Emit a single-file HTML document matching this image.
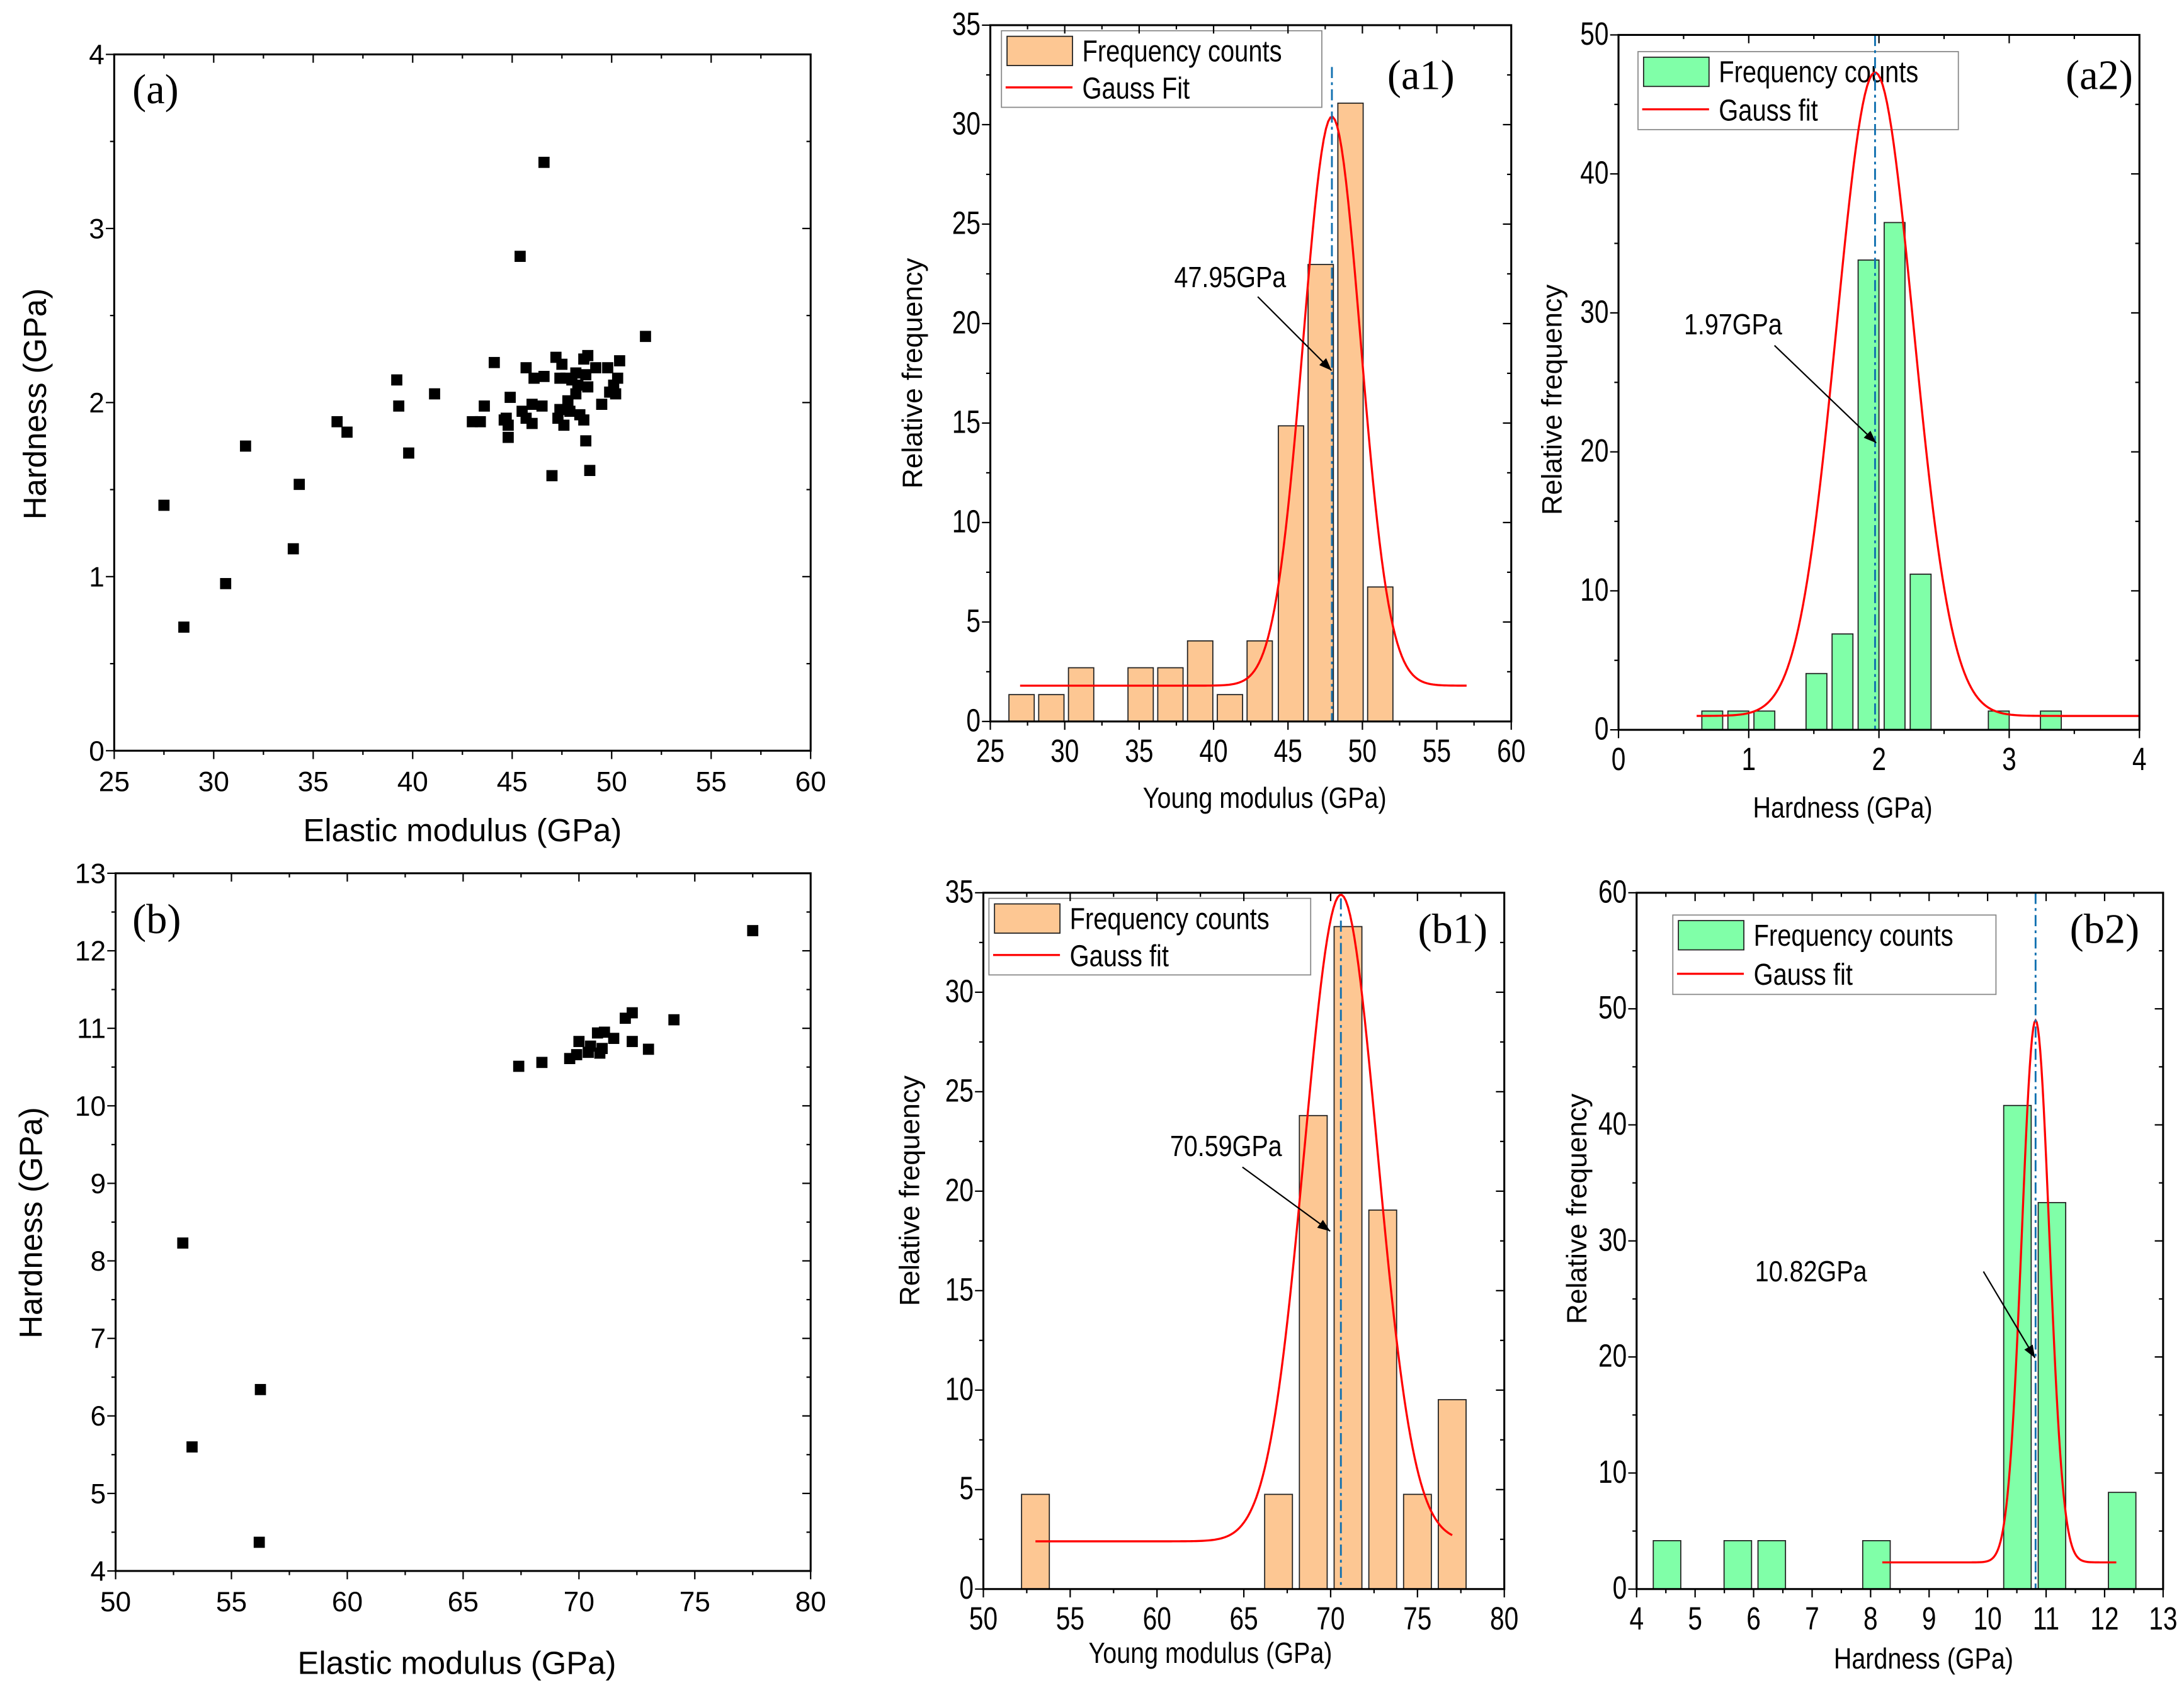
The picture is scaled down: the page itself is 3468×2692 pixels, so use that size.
<!DOCTYPE html>
<html><head><meta charset="utf-8">
<style>
html,body{margin:0;padding:0;background:#fff;}
svg{display:block;}
text{font-family:"Liberation Sans",sans-serif;fill:#000;}
.serif{font-family:"Liberation Serif",serif;}
</style></head>
<body>
<svg id="fig" xmlns="http://www.w3.org/2000/svg" width="3468" height="2692" viewBox="0 0 1568 1217">
<rect x="0" y="0" width="1568" height="1217" fill="#fff"/>
</svg>
<script>
// ---- data: scatter (a)
const aE = [27.5,28.5,30.6,31.6,34.0,34.3,36.2,36.7,39.2,39.3,39.8,41.1,43.0,43.4,43.6,44.1,44.6,44.7,44.8,44.8,44.9,45.4,45.5,45.7,45.7,46.0,46.0,46.1,46.5,46.6,46.6,47.0,47.2,47.3,47.4,47.4,47.5,47.6,47.7,47.8,47.9,48.0,48.2,48.2,48.3,48.4,48.6,48.6,48.7,48.7,48.8,48.8,48.9,49.5,49.8,49.9,50.1,50.2,50.4,50.3,49.2,51.7];
const aH = [1.41,0.71,0.96,1.75,1.16,1.53,1.89,1.83,2.13,1.98,1.71,2.05,1.89,1.89,1.98,2.23,1.90,1.91,1.87,1.80,2.03,2.84,1.95,1.91,2.20,1.99,1.88,2.14,1.98,2.15,3.38,1.58,2.26,1.91,1.96,2.14,2.22,1.87,2.14,2.01,1.95,2.13,2.05,2.17,2.10,1.93,2.25,1.90,2.16,1.78,2.27,2.09,1.61,1.99,2.20,2.06,2.10,2.05,2.24,2.14,2.20,2.38];
// ---- data: scatter (b)
const bE = [52.9,53.3,56.2,56.25,67.4,68.4,69.6,69.9,70.0,70.4,70.5,70.9,70.8,71.0,71.1,71.5,72.0,72.3,72.3,73.0,74.1,77.5];
const bH = [8.23,5.6,4.37,6.34,10.51,10.56,10.61,10.66,10.83,10.69,10.77,10.68,10.94,10.74,10.95,10.87,11.13,10.83,11.20,10.73,11.11,12.26];
// ---- data: histogram (a1)
const a1Centers = [27.1,29.1,31.1,35.1,37.1,39.1,41.1,43.1,45.2,47.2,49.2,51.2];
const a1Freq = [1.35,1.35,2.7,2.7,2.7,4.05,1.35,4.05,14.86,22.97,31.08,6.76];
const a1Gauss = {y0:1.8, xc:47.95, A:28.6, w:3.86, from:27, to:57};
// ---- data: histogram (a2)
const a2Centers = [0.72,0.92,1.12,1.52,1.72,1.92,2.12,2.32,2.92,3.32];
const a2Freq = [1.35,1.35,1.35,4.05,6.9,33.8,36.5,11.2,1.35,1.35];
const a2Gauss = {y0:1.0, xc:1.97, A:46.3, w:0.59, from:0.6, to:4};
// ---- data: histogram (b1)
const b1Centers = [53,67,69,71,73,75,77];
const b1Freq = [4.76,4.76,23.8,33.3,19.05,4.76,9.52];
const b1Gauss = {y0:2.4, xc:70.59, A:32.5, w:4.2, from:53, to:77};
// ---- data: histogram (b2)
const b2Centers = [4.52,5.73,6.31,8.1,10.51,11.1,12.3];
const b2Freq = [4.17,4.17,4.17,4.17,41.67,33.3,8.33];
const b2Gauss = {y0:2.3, xc:10.82, A:46.7, w:0.47, from:8.2, to:12.2};

const NS='http://www.w3.org/2000/svg';
const fig=document.getElementById('fig');
function mk(tag,attrs,parent,txt){const e=document.createElementNS(NS,tag);for(const k in attrs)e.setAttribute(k,attrs[k]);if(txt!==undefined)e.textContent=txt;(parent||fig).appendChild(e);return e;}
function gauss(g,x){return g.y0+g.A*Math.exp(-2*(x-g.xc)*(x-g.xc)/(g.w*g.w));}

function axes(p){
  const g=mk('g',{});
  
  
  p.sx=v=>p.L+(v-p.x0)/(p.x1-p.x0)*(p.R-p.L);
  p.sy=v=>p.B-(v-p.y0)/(p.y1-p.y0)*(p.B-p.T);
  p.g=g;
  p.marks=mk('g',{},g);
  const narrow=p.narrow;
  const fs=narrow?23:20;
  for(let v=p.x0; v<=p.x1+1e-9; v+=p.xminor){
    const major=Math.abs(Math.round(v/p.xstep)*p.xstep-v)<1e-6;
    const X=p.sx(v), len=major?6:3;
    mk('line',{x1:X,y1:p.B,x2:X,y2:p.B+len,stroke:'#000','stroke-width':1},g);
    mk('line',{x1:X,y1:p.T,x2:X,y2:p.T+len,stroke:'#000','stroke-width':1},g);
    if(major){const t=mk('text',{x:X,y:p.B+29,'text-anchor':'middle','font-size':fs},g,String(+v.toFixed(2)));
      if(narrow){t.setAttribute('transform',`translate(${X},0) scale(0.8,1) translate(${-X},0)`);}
      }
  }
  for(let v=p.y0; v<=p.y1+1e-9; v+=p.yminor){
    const major=Math.abs(Math.round(v/p.ystep)*p.ystep-v)<1e-6;
    const Y=p.sy(v), len=major?6:3;
    mk('line',{x1:p.L,y1:Y,x2:p.L-len,y2:Y,stroke:'#000','stroke-width':1},g);
    mk('line',{x1:p.R,y1:Y,x2:p.R-len,y2:Y,stroke:'#000','stroke-width':1},g);
    if(major){const tx=p.L-7;const t=mk('text',{x:tx,y:Y+7,'text-anchor':'end','font-size':fs},g,String(+v.toFixed(2)));
      if(narrow){t.setAttribute('transform',`translate(${tx},0) scale(0.8,1) translate(${-tx},0)`);}
      }
  }
  mk('rect',{x:p.L,y:p.T,width:p.R-p.L,height:p.B-p.T,fill:'none',stroke:'#000','stroke-width':1.4},g);
  const xt=mk('text',{x:p.xtx,y:p.xty,'text-anchor':'middle','font-size':p.xtsize},g,p.xtitle);
  if(narrow)xt.setAttribute('transform',`translate(${p.xtx},0) scale(0.85,1) translate(${-p.xtx},0)`);
  
  const yt=mk('text',{x:0,y:0,'text-anchor':'middle','font-size':p.ytsize,transform:`translate(${p.ytx},${p.yty}) rotate(-90)`},g,p.ytitle);
  
  const pl=mk('text',{x:p.plx,y:p.ply,'font-size':p.plsize,'class':'serif'},g,p.label);
  
  return p;
}
function scatter(p,xs,ys){
  for(let i=0;i<xs.length;i++){
    const r=mk('rect',{x:p.sx(xs[i])-4,y:p.sy(ys[i])-4,width:8,height:8,fill:'#000'},p.marks);
    
    
  }
}
function hist(p,centers,freq,bw,fill,gs,leg,ann){
  const lg=mk('g',{},p.marks);
  
  
  mk('rect',{x:leg.x,y:leg.y,width:leg.w,height:leg.h,fill:'#fff',stroke:'#888','stroke-width':0.8},lg);
  mk('rect',{x:leg.x+4,y:leg.y+4,width:47,height:21,fill:fill,stroke:'#222','stroke-width':0.8},lg);
  mk('line',{x1:leg.x+3,x2:leg.x+51,y1:leg.y+leg.h*0.74,y2:leg.y+leg.h*0.74,stroke:'#ff0000','stroke-width':1.5},lg);
  const t1=mk('text',{x:leg.x+58,y:leg.y+22,'font-size':22,transform:`translate(${leg.x+58},0) scale(0.82,1) translate(${-(leg.x+58)},0)`},lg,'Frequency counts');
  
  const t2=mk('text',{x:leg.x+58,y:leg.y+leg.h*0.74+8,'font-size':22,transform:`translate(${leg.x+58},0) scale(0.82,1) translate(${-(leg.x+58)},0)`},lg,leg.fit);
  
  for(let i=0;i<centers.length;i++){
    const x0=p.sx(centers[i]-bw/2), x1=p.sx(centers[i]+bw/2), y=p.sy(freq[i]);
    const r=mk('rect',{x:x0,y:y,width:x1-x0,height:p.B-y,fill:fill,stroke:'#222','stroke-width':0.8},p.marks);
    
    
  }
  let d='';const n=200;
  for(let k=0;k<=n;k++){const x=gs.from+(gs.to-gs.from)*k/n;d+=(k?'L':'M')+p.sx(x).toFixed(2)+','+p.sy(gauss(gs,x)).toFixed(2);}
  const c=mk('path',{d:d,fill:'none',stroke:'#ff0000','stroke-width':1.5},p.marks);
  
  
  const vl=mk('line',{x1:p.sx(gs.xc),x2:p.sx(gs.xc),y1:leg.vtop,y2:p.B,stroke:'#1070b0','stroke-width':1.3,'stroke-dasharray':'8,3,2,3'},p.marks);
  
  
  const at=mk('text',{x:ann.tx,y:ann.ty,'font-size':21,transform:`translate(${ann.tx},0) scale(0.85,1) translate(${-ann.tx},0)`},p.marks,gs.xc.toFixed(2)+'GPa');
  
  const ax=ann.x2-ann.x1, ay=ann.y2-ann.y1, L=Math.hypot(ax,ay), ux=ax/L, uy=ay/L;
  mk('line',{x1:ann.x1,y1:ann.y1,x2:ann.x2,y2:ann.y2,stroke:'#000','stroke-width':1},p.marks);
  mk('path',{d:`M${ann.x2},${ann.y2} L${ann.x2-9*ux-3.5*uy},${ann.y2-9*uy+3.5*ux} L${ann.x2-9*ux+3.5*uy},${ann.y2-9*uy-3.5*ux}Z`,fill:'#000'},p.marks);
}

const pa=axes({name:'panel-a-scatter',L:82,R:582,T:39,B:539,x0:25,x1:60,xstep:5,xminor:2.5,y0:0,y1:4,ystep:1,yminor:0.5,
  xtitle:'Elastic modulus (GPa)',xtx:332,xty:604,xtsize:23,ytitle:'Hardness (GPa)',ytx:33,yty:290,ytsize:23,label:'(a)',plx:95,ply:74,plsize:30});
scatter(pa,aE,aH);
const pb=axes({name:'panel-b-scatter',L:83,R:582,T:627,B:1128,x0:50,x1:80,xstep:5,xminor:2.5,y0:4,y1:13,ystep:1,yminor:0.5,
  xtitle:'Elastic modulus (GPa)',xtx:328,xty:1202,xtsize:23,ytitle:'Hardness (GPa)',ytx:30,yty:878,ytsize:23,label:'(b)',plx:95,ply:670,plsize:30});
scatter(pb,bE,bH);

const pa1=axes({name:'panel-a1-histogram',narrow:true,L:711,R:1085,T:18,B:518,x0:25,x1:60,xstep:5,xminor:2.5,y0:0,y1:35,ystep:5,yminor:2.5,
  xtitle:'Young modulus (GPa)',xtx:908,xty:580,xtsize:21,ytitle:'Relative frequency',ytx:662,yty:268,ytsize:20,label:'(a1)',plx:996,ply:64,plsize:30});
hist(pa1,a1Centers,a1Freq,1.7,'#fdc793',a1Gauss,{x:719,y:22,w:230,h:55,fit:'Gauss Fit',vtop:48},{tx:843,ty:206,x1:903,y1:213,x2:956,y2:266});

const pa2=axes({name:'panel-a2-histogram',narrow:true,L:1162,R:1536,T:25,B:524,x0:0,x1:4,xstep:1,xminor:0.5,y0:0,y1:50,ystep:10,yminor:5,
  xtitle:'Hardness (GPa)',xtx:1323,xty:587,xtsize:21,ytitle:'Relative frequency',ytx:1121,yty:287,ytsize:20,label:'(a2)',plx:1483,ply:64,plsize:30});
hist(pa2,a2Centers,a2Freq,0.16,'#80ffa8',a2Gauss,{x:1176,y:37,w:230,h:56,fit:'Gauss fit',vtop:25},{tx:1209,ty:240,x1:1274,y1:248,x2:1347,y2:318});

const pb1=axes({name:'panel-b1-histogram',narrow:true,L:706,R:1080,T:641,B:1141,x0:50,x1:80,xstep:5,xminor:2.5,y0:0,y1:35,ystep:5,yminor:2.5,
  xtitle:'Young modulus (GPa)',xtx:869,xty:1194,xtsize:21,ytitle:'Relative frequency',ytx:660,yty:855,ytsize:20,label:'(b1)',plx:1018,ply:677,plsize:30});
hist(pb1,b1Centers,b1Freq,1.6,'#fdc793',b1Gauss,{x:710,y:645,w:231,h:55,fit:'Gauss fit',vtop:645},{tx:840,ty:830,x1:892,y1:838,x2:955,y2:884});

const pb2=axes({name:'panel-b2-histogram',narrow:true,L:1175,R:1553,T:641,B:1141,x0:4,x1:13,xstep:1,xminor:0.5,y0:0,y1:60,ystep:10,yminor:5,
  xtitle:'Hardness (GPa)',xtx:1381,xty:1198,xtsize:21,ytitle:'Relative frequency',ytx:1139,yty:868,ytsize:20,label:'(b2)',plx:1486,ply:677,plsize:30});
hist(pb2,b2Centers,b2Freq,0.47,'#80ffa8',b2Gauss,{x:1201,y:657,w:232,h:57,fit:'Gauss fit',vtop:641},{tx:1260,ty:920,x1:1424,y1:913,x2:1461,y2:975});
</script>
</body></html>
